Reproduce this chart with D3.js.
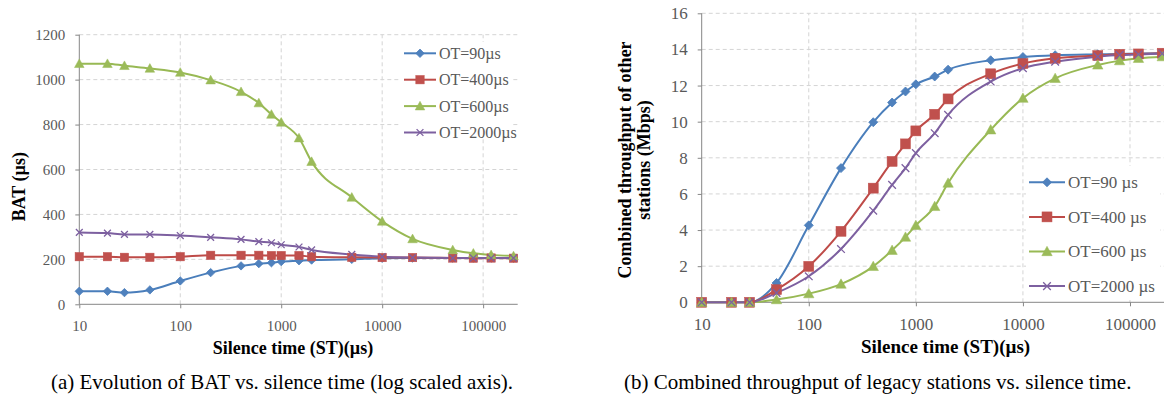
<!DOCTYPE html>
<html>
<head>
<meta charset="utf-8">
<script src="https://cdn.jsdelivr.net/npm/d3@7/dist/d3.min.js"></script>
<style>
  body { margin: 0; background: #fff; }
  svg text { font-family: "Liberation Serif", "DejaVu Serif", serif; }
</style>
</head>
<body>
<div id="chart"></div>
<script>
// Silence time values (x axis, µs)
const stValues = [10, 19, 28, 50, 100, 200, 400, 600, 800, 1000, 1500, 2000, 5000, 10000, 20000, 50000, 80000, 120000, 200000];

// (a) BAT per OT
const bat90   = [58, 58, 52, 64, 104, 141, 171, 181, 185, 190, 194, 197, 200, 205, 206, 206, 206, 206, 206];
const bat400  = [212, 212, 209, 209, 212, 218, 218, 218, 217, 217, 217, 212, 209, 208, 208, 206, 205, 206, 205];
const bat600  = [1071, 1071, 1062, 1050, 1032, 998, 946, 896, 845, 810, 740, 635, 476, 369, 291, 242, 227, 220, 215];
const bat2000 = [320, 317, 311, 311, 306, 298, 289, 279, 274, 265, 255, 242, 222, 212, 208, 206, 206, 206, 206];

// (b) Combined throughput per OT (Mbps)
const thr90   = [0, 0, 0, 1.07, 4.26, 7.43, 9.97, 11.06, 11.67, 12.07, 12.5, 12.88, 13.4, 13.58, 13.68, 13.73, 13.75, 13.77, 13.79];
const thr400  = [0, 0, 0, 0.7, 1.99, 3.93, 6.32, 7.8, 8.77, 9.49, 10.41, 11.26, 12.65, 13.22, 13.51, 13.66, 13.73, 13.75, 13.79];
const thr600  = [0, 0, 0, 0.15, 0.48, 1.01, 1.99, 2.88, 3.61, 4.26, 5.31, 6.6, 9.55, 11.3, 12.4, 13.14, 13.38, 13.51, 13.6];
const thr2000 = [0, 0, 0, 0.52, 1.44, 2.95, 5.07, 6.5, 7.43, 8.26, 9.36, 10.38, 12.22, 12.96, 13.32, 13.6, 13.69, 13.72, 13.77];

const xTicks = [10, 100, 1000, 10000, 100000];
const batTicks = [0, 200, 400, 600, 800, 1000, 1200];
const thrTicks = [0, 2, 4, 6, 8, 10, 12, 14, 16];

const seriesNamesA = ["OT=90µs", "OT=400µs", "OT=600µs", "OT=2000µs"];
const seriesNamesB = ["OT=90 µs", "OT=400 µs", "OT=600 µs", "OT=2000 µs"];
const colors  = ["#4A7EBB", "#BE4B48", "#98B954", "#7D60A0"];
const markers = ["diamond", "square", "triangle", "cross"];

const FONT = "'Liberation Serif', 'DejaVu Serif', serif";

const svg = d3.select("#chart")
  .append("svg")
  .attr("width", 1164)
  .attr("height", 396)
  .attr("font-family", FONT);

// marker drawing
function drawMarker(g, type, x, y, r, color) {
  if (type === "diamond") {
    g.append("path")
      .attr("d", `M${x},${y - r} L${x + r},${y} L${x},${y + r} L${x - r},${y} Z`)
      .attr("fill", "#4F81BD").attr("stroke", color).attr("stroke-width", 0.8);
  } else if (type === "square") {
    g.append("rect")
      .attr("x", x - r).attr("y", y - r)
      .attr("width", 2 * r).attr("height", 2 * r)
      .attr("fill", "#C0504D").attr("stroke", "#C0504D").attr("stroke-width", 0.5);
  } else if (type === "triangle") {
    g.append("path")
      .attr("d", `M${x},${y - r} L${x + r},${y + r * 0.8} L${x - r},${y + r * 0.8} Z`)
      .attr("fill", "#9BBB59").attr("stroke", "#9BBB59").attr("stroke-width", 0.5);
  } else {
    const c = r * 0.85;
    g.append("path")
      .attr("d", `M${x - c},${y - c} L${x + c},${y + c} M${x - c},${y + c} L${x + c},${y - c}`)
      .attr("fill", "none").attr("stroke", color).attr("stroke-width", 1.3);
  }
}

function drawChart(cfg) {
  const g = svg.append("g");
  const x = d3.scaleLog().domain(cfg.xDomain).range(cfg.xRange);
  const y = d3.scaleLinear().domain(cfg.yDomain).range(cfg.yRange);
  const [x0, x1] = cfg.xRange;
  const [y0, y1] = cfg.yRange;

  // horizontal grid
  g.selectAll("line.hgrid")
    .data(cfg.yTicks.filter(d => d !== 0))
    .join("line")
    .attr("x1", x0).attr("x2", x1)
    .attr("y1", d => y(d)).attr("y2", d => y(d))
    .attr("stroke", "#D4D4D4").attr("stroke-dasharray", "4,3");

  // vertical grid
  g.selectAll("line.vgrid")
    .data(xTicks.filter(d => d !== 10))
    .join("line")
    .attr("x1", d => x(d)).attr("x2", d => x(d))
    .attr("y1", y0).attr("y2", y1)
    .attr("stroke", "#D4D4D4").attr("stroke-dasharray", "4,3");

  // legend background (hides grid)
  g.append("rect")
    .attr("x", cfg.legend.bx).attr("y", cfg.legend.by)
    .attr("width", cfg.legend.bw).attr("height", cfg.legend.bh)
    .attr("fill", "#fff");

  // axes
  const yAxis = g.append("g")
    .attr("transform", `translate(${x0},0)`)
    .call(d3.axisLeft(y).tickValues(cfg.yTicks).tickSize(4).tickPadding(cfg.yPad).tickFormat(d3.format("d")));
  const xAxis = g.append("g")
    .attr("transform", `translate(0,${y0})`)
    .call(d3.axisBottom(x).tickValues(xTicks).tickSize(4).tickPadding(cfg.xPad).tickFormat(d3.format("d")));
  [yAxis, xAxis].forEach(ax => {
    ax.attr("font-family", FONT).attr("font-size", cfg.tickFont);
    ax.select(".domain").attr("stroke", "#868686");
    ax.selectAll(".tick line").attr("stroke", "#868686");
    ax.selectAll(".tick text").attr("fill", "#595959");
  });
  xAxis.select(".domain").attr("d", `M${x0},0H${x1}`);
  yAxis.select(".domain").attr("d", `M0,${y0}V${y1}`);

  // series
  const line = d3.line()
    .x((d, i) => x(stValues[i]))
    .y(d => y(d))
    .curve(d3.curveMonotoneX);

  cfg.series.forEach((vals, k) => {
    g.append("path")
      .datum(vals)
      .attr("d", line)
      .attr("fill", "none")
      .attr("stroke", colors[k])
      .attr("stroke-width", 2);
  });
  cfg.series.forEach((vals, k) => {
    vals.forEach((v, i) => drawMarker(g, markers[k], x(stValues[i]), y(v), cfg.markerR[k], colors[k]));
  });

  // legend
  const L = cfg.legend;
  cfg.names.forEach((name, k) => {
    const ly = L.y + k * L.dy;
    g.append("line")
      .attr("x1", L.x).attr("x2", L.x + L.len)
      .attr("y1", ly).attr("y2", ly)
      .attr("stroke", colors[k]).attr("stroke-width", 2);
    drawMarker(g, markers[k], L.x + L.len / 2, ly, cfg.markerR[k], colors[k]);
    g.append("text")
      .attr("x", L.x + L.len + 3)
      .attr("y", ly)
      .attr("dy", "0.35em")
      .attr("fill", "#595959")
      .style("font-size", L.font + "px")
      .text(name);
  });

  // axis titles
  g.append("text")
    .attr("x", cfg.xTitle.x).attr("y", cfg.xTitle.y)
    .attr("text-anchor", "middle")
    .style("font-size", cfg.xTitle.font + "px")
    .style("font-weight", "bold")
    .text("Silence time (ST)(µs)");

  cfg.yTitle.lines.forEach((t, i) => {
    g.append("text")
      .attr("transform", `translate(${cfg.yTitle.x + i * cfg.yTitle.dx},${cfg.yTitle.y}) rotate(-90)`)
      .attr("text-anchor", "middle")
      .attr("dy", "0.35em")
      .style("font-size", cfg.yTitle.font + "px")
      .style("font-weight", "bold")
      .text(t);
  });

  g.append("text")
    .attr("x", cfg.caption.x).attr("y", cfg.caption.y)
    .attr("text-anchor", "middle")
    .style("font-size", "21px")
    .text(cfg.caption.text);
}

drawChart({
  xDomain: [10, 220000], xRange: [79.3, 517.7],
  yDomain: [0, 1200], yRange: [304.3, 34.7],
  yTicks: batTicks, yPad: 10, xPad: 12, tickFont: 15,
  series: [bat90, bat400, bat600, bat2000],
  names: seriesNamesA,
  markerR: [4.2, 4.2, 4.8, 4],
  legend: { x: 404, len: 32, y: 53.3, dy: 26.4, font: 16, bx: 401, by: 42, bw: 112, bh: 97 },
  xTitle: { x: 293, y: 354, font: 18 },
  yTitle: { lines: ["BAT (µs)"], x: 18.5, y: 186.7, dx: 0, font: 18 },
  caption: { x: 282, y: 388.7, text: "(a) Evolution of BAT vs. silence time (log scaled axis)." }
});

drawChart({
  xDomain: [10, 210000], xRange: [701.7, 1164.5],
  yDomain: [0, 16], yRange: [302.3, 13.3],
  yTicks: thrTicks, yPad: 10, xPad: 12, tickFont: 17,
  series: [thr90, thr400, thr600, thr2000],
  names: seriesNamesB,
  markerR: [4.5, 5, 5.2, 4.5],
  legend: { x: 1029, len: 36, y: 182.3, dy: 34.6, font: 17, bx: 1026, by: 166, bw: 134, bh: 134 },
  xTitle: { x: 945.5, y: 353.3, font: 19 },
  yTitle: { lines: ["Combined throughput of other", "stations (Mbps)"], x: 625, y: 160, dx: 19, font: 18 },
  caption: { x: 877.7, y: 388.5, text: "(b) Combined throughput of legacy stations vs. silence time." }
});
</script>
</body>
</html>
